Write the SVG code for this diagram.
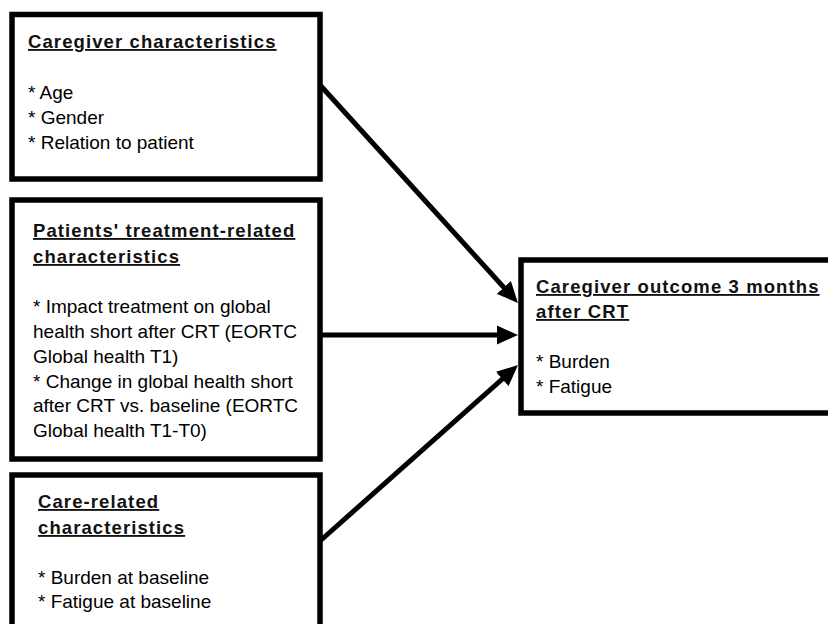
<svg xmlns="http://www.w3.org/2000/svg" width="828" height="624" viewBox="0 0 828 624">
<style>
.box{fill:#fff;stroke:#000;stroke-width:5.5}
.t{font-family:"Liberation Sans",Arial,sans-serif;font-size:18.5px;font-weight:bold;letter-spacing:1.1px;fill:#111;text-decoration:underline}
.b{font-family:"Liberation Sans",Arial,sans-serif;font-size:19px;fill:#000}
.c{stroke:#000;stroke-width:5;fill:none;marker-end:url(#ah)}
</style>
<defs>
<marker id="ah" markerUnits="userSpaceOnUse" markerWidth="22" markerHeight="20" refX="9" refY="9.5" orient="auto" viewBox="0 0 22 19">
<path d="M0,0 L21,9.5 L0,19 Z" fill="#000"/>
</marker>
</defs>
<rect width="828" height="624" fill="#fff"/>
<g id="caregiver">
<rect class="box" x="12" y="14.5" width="308" height="164.5"/>
<text class="t" x="28" y="48">Caregiver characteristics</text>
<text class="b" x="28" y="99">* Age</text>
<text class="b" x="28" y="124">* Gender</text>
<text class="b" x="28" y="149">* Relation to patient</text>
</g>
<g id="patients">
<rect class="box" x="12" y="200" width="308" height="259"/>
<text class="t" x="33" y="237">Patients' treatment-related</text>
<text class="t" x="33" y="263">characteristics</text>
<text class="b" x="33" y="313">* Impact treatment on global</text>
<text class="b" x="33" y="338">health short after CRT (EORTC</text>
<text class="b" x="33" y="363">Global health T1)</text>
<text class="b" x="33" y="388">* Change in global health short</text>
<text class="b" x="33" y="412">after CRT vs. baseline (EORTC</text>
<text class="b" x="33" y="437">Global health T1-T0)</text>
</g>
<g id="care">
<rect class="box" x="12" y="475" width="308" height="170"/>
<text class="t" x="38" y="508">Care-related</text>
<text class="t" x="38" y="534">characteristics</text>
<text class="b" x="38" y="584">* Burden at baseline</text>
<text class="b" x="38" y="608">* Fatigue at baseline</text>
</g>
<g id="outcome">
<rect class="box" x="521" y="260" width="320" height="153"/>
<text class="t" x="536" y="293">Caregiver outcome 3 months</text>
<text class="t" x="536" y="318">after CRT</text>
<text class="b" x="536" y="368">* Burden</text>
<text class="b" x="536" y="393">* Fatigue</text>
</g>
<g id="connectors">
<line class="c" x1="320" y1="85" x2="509.9" y2="294.1"/>
<line class="c" x1="320" y1="335" x2="506" y2="335"/>
<line class="c" x1="320" y1="541" x2="509" y2="373"/>
</g>
</svg>
